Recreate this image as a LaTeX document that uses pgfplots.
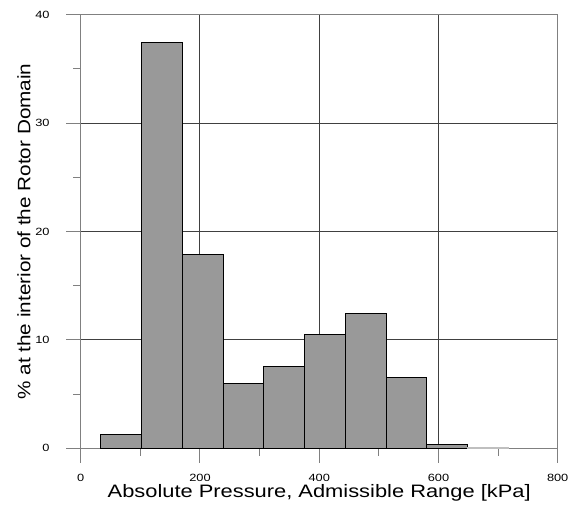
\documentclass[border=0pt]{standalone}
\usepackage{pgfplots}
\pgfplotsset{compat=1.18}
\usepackage{fontspec}
\setmainfont{Liberation Sans}
\definecolor{barfill}{HTML}{999999}
\definecolor{framegray}{HTML}{808080}
\begin{document}
\begin{tikzpicture}
\useasboundingbox (-80.7pt,-57.7pt) rectangle (493.3pt,448.3pt);
\begin{axis}[
  scale only axis,
  width=477pt, height=433.6pt,
  xmin=0, xmax=800, ymin=0, ymax=40,
  axis lines*=left,
  xtick pos=left, ytick pos=left,
  xtick={0,200,400,600,800},
  ytick={0,10,20,30,40},
  minor xtick={100,300,500,700},
  minor ytick={5,15,25,35},
  tick align=inside,
  major tick length=-15pt,
  minor tick length=-8pt,
  tick style={framegray, line width=1pt},
  minor tick style={framegray, line width=1pt},
  axis line style={framegray, line width=1.5pt},
  grid=major,
  major grid style={black!75, line width=0.9pt},
  tick label style={font=\fontsize{10.5}{12}\selectfont, xscale=1.22},
  /pgf/number format/assume math mode=true,
  yticklabel style={xshift=-22pt},
  xticklabel style={yshift=-22pt},
  xlabel={Absolute Pressure, Admissible Range [kPa]},
  ylabel={\% at the interior of the Rotor Domain},
  label style={font=\fontsize{18}{22}\selectfont},
  xlabel style={at={(axis description cs:0.5,-0.1031)}, anchor=center, xscale=1.215},
  ylabel style={at={(axis description cs:-0.1189,0.5)}, anchor=center, xscale=1.15},
  after end axis/.code={
    \draw[framegray, line width=1.5pt] (rel axis cs:0,1) -- (rel axis cs:1,1) -- (rel axis cs:1,0);
  },
]
\addplot[ybar interval, fill=barfill, draw=black, line width=1pt] coordinates {
  (34,1.29) (102.3,37.4) (170.6,17.9) (239,5.96) (307.3,7.56)
  (375.6,10.5) (444,12.42) (512.3,6.55) (580.6,0.35) (649,0.35)
};
\addplot[ybar interval, fill=barfill, draw=black!25, line width=1pt] coordinates {
  (649,0.03) (717.3,0.03)
};
\end{axis}
\end{tikzpicture}
\end{document}
